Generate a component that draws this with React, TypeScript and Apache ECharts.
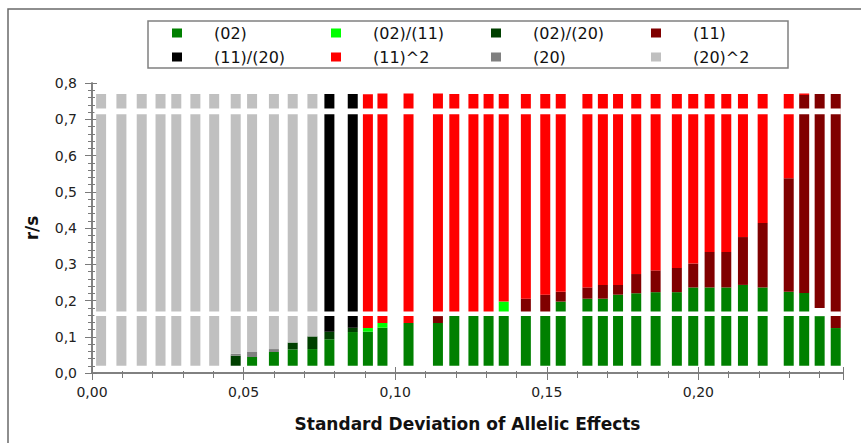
import React, { useEffect, useRef } from "react";
import * as echarts from "echarts";

// x positions of the bars (Standard Deviation of Allelic Effects)
const xValues = [0.0030, 0.0097, 0.0164, 0.0226, 0.0278, 0.0341, 0.0403, 0.0474, 0.0528, 0.0600,
  0.0662, 0.0727, 0.0783, 0.0860, 0.0910, 0.0958, 0.1044, 0.1141, 0.1195, 0.1258,
  0.1308, 0.1358, 0.1431, 0.1495, 0.1546, 0.1634, 0.1685, 0.1735, 0.1795, 0.1859,
  0.1929, 0.1983, 0.2037, 0.2092, 0.2147, 0.2212, 0.2298, 0.2349, 0.2400, 0.2453];

// bottom of every bar
const baseValues = Array(40).fill(0.02);

const s02 = [0, 0, 0, 0, 0, 0, 0, 0, 0.024, 0.038,
  0.045, 0.046, 0.073, 0.093, 0.094, 0.105, 0.118, 0.118, 0.143, 0.143,
  0.143, 0.143, 0.143, 0.143, 0.177, 0.185, 0.185, 0.196, 0.200, 0.203,
  0.203, 0.216, 0.216, 0.216, 0.223, 0.216, 0.204, 0.201, 0.137, 0.104];
const s02_11 = [0, 0, 0, 0, 0, 0, 0, 0, 0, 0,
  0, 0, 0, 0, 0.010, 0.013, 0, 0, 0, 0,
  0, 0.034, 0, 0, 0, 0, 0, 0, 0, 0,
  0, 0, 0, 0, 0, 0, 0, 0, 0, 0];
const s02_20 = [0, 0, 0, 0, 0, 0, 0, 0.028, 0, 0,
  0.019, 0.035, 0.021, 0.012, 0, 0, 0, 0, 0, 0,
  0, 0, 0, 0, 0, 0, 0, 0, 0, 0,
  0, 0, 0, 0, 0, 0, 0, 0, 0, 0];
const s20 = [0, 0, 0, 0, 0, 0, 0, 0.005, 0.014, 0.008,
  0, 0, 0, 0, 0, 0, 0, 0, 0, 0,
  0, 0, 0, 0, 0, 0, 0, 0, 0, 0,
  0, 0, 0, 0, 0, 0, 0, 0, 0, 0];
const s20sq = [0.75, 0.75, 0.75, 0.75, 0.75, 0.75, 0.75, 0.717, 0.712, 0.704,
  0.686, 0.669, 0, 0, 0, 0, 0, 0, 0, 0,
  0, 0, 0, 0, 0, 0, 0, 0, 0, 0,
  0, 0, 0, 0, 0, 0, 0, 0, 0, 0];
const s11_20 = [0, 0, 0, 0, 0, 0, 0, 0, 0, 0,
  0, 0, 0.656, 0.645, 0, 0, 0, 0, 0, 0,
  0, 0, 0, 0, 0, 0, 0, 0, 0, 0,
  0, 0, 0, 0, 0, 0, 0, 0, 0, 0];
const sGap = [0, 0, 0, 0, 0, 0, 0, 0, 0, 0,
  0, 0, 0, 0, 0, 0, 0, 0, 0, 0,
  0, 0, 0, 0, 0, 0, 0, 0, 0, 0,
  0, 0, 0, 0, 0, 0, 0, 0, 0.022, 0];
const s11 = [0, 0, 0, 0, 0, 0, 0, 0, 0, 0,
  0, 0, 0, 0, 0, 0, 0, 0.019, 0, 0,
  0, 0, 0.042, 0.053, 0.027, 0.031, 0.038, 0.027, 0.053, 0.060,
  0.067, 0.066, 0.098, 0.098, 0.132, 0.178, 0.313, 0.546, 0.591, 0.646];
const s11sq = [0, 0, 0, 0, 0, 0, 0, 0, 0, 0,
  0, 0, 0, 0, 0.645, 0.633, 0.633, 0.614, 0.607, 0.607,
  0.607, 0.573, 0.565, 0.554, 0.546, 0.534, 0.527, 0.527, 0.497, 0.487,
  0.480, 0.468, 0.436, 0.436, 0.395, 0.356, 0.233, 0.004, 0, 0];

// stacking order (bottom to top)
const stackOrder: [string, number[], string][] = [
  ["(02)", s02, "#008000"],
  ["(02)/(11)", s02_11, "#00ff00"],
  ["(02)/(20)", s02_20, "#004000"],
  ["(20)", s20, "#808080"],
  ["(20)^2", s20sq, "#c0c0c0"],
  ["(11)/(20)", s11_20, "#000000"],
  ["gap", sGap, "#ffffff"],
  ["(11)", s11, "#800000"],
  ["(11)^2", s11sq, "#ff0000"],
];

// white break bands across the bars [from, to]
const breakBands = [[0.157, 0.170], [0.7135, 0.730]];

const xTicks = { min: 0, max: 0.2477, interval: 0.05 };
const yTicks = { min: 0, max: 0.8, interval: 0.1 };

const FONT = "DejaVu Sans";
const AXIS = "#7a7a7a";
const BAR_PX = 10;

export default function App() {
  const ref = useRef<HTMLDivElement>(null);
  useEffect(() => {
    if (!ref.current) return;
    const chart = echarts.init(ref.current, null, { renderer: "svg" });

    const running = baseValues.slice();
    const barSeries = stackOrder.map(([name, vals, color]) => {
      const data: number[][] = [];
      xValues.forEach((x, i) => {
        const bottom = running[i];
        const top = bottom + vals[i];
        running[i] = top;
        if (vals[i] > 0) data.push([x, bottom, top]);
      });
      return {
        name,
        type: "custom",
        silent: true,
        itemStyle: { color },
        encode: { x: 0, y: [1, 2] },
        data,
        renderItem: (params: any, api: any) => {
          const pTop = api.coord([api.value(0), api.value(2)]);
          const pBot = api.coord([api.value(0), api.value(1)]);
          return {
            type: "rect",
            shape: { x: pTop[0] - BAR_PX / 2, y: pTop[1], width: BAR_PX, height: pBot[1] - pTop[1] },
            style: { fill: color },
          };
        },
      };
    });

    const legendBase = {
      orient: "vertical",
      top: 25,
      itemGap: 8,
      itemWidth: 37,
      itemHeight: 9,
      padding: 0,
      selectedMode: false,
      icon: "path://M0,0h10v9h-10zM37,9",
      textStyle: { fontFamily: FONT, fontSize: 16, lineHeight: 16, color: "#111" },
    };
    const xCommon = {
      type: "value",
      min: xTicks.min,
      max: xTicks.max,
      interval: xTicks.interval,
      splitLine: { show: false },
    };
    const yCommon = {
      type: "value",
      min: yTicks.min,
      max: yTicks.max,
      interval: yTicks.interval,
      splitLine: { show: false },
    };
    chart.setOption({
      animation: false,
      grid: { left: 92, right: 18, top: 83, bottom: 70 },
      legend: [
        { ...legendBase, left: 172, data: ["(02)", "(11)/(20)"] },
        { ...legendBase, left: 331, data: ["(02)/(11)", "(11)^2"] },
        { ...legendBase, left: 491, data: ["(02)/(20)", "(20)"] },
        { ...legendBase, left: 651, data: ["(11)", "(20)^2"] },
      ],
      graphic: [
        {
          type: "polyline",
          shape: { points: [[8, 443], [8, 9], [861, 9]] },
          style: { stroke: "#6a6a6a", lineWidth: 1.5, fill: "none" },
          silent: true,
        },
        {
          type: "rect",
          shape: { x: 148, y: 21, width: 640, height: 47 },
          style: { stroke: "#808080", lineWidth: 1.5, fill: "none" },
          silent: true,
        },
      ],
      xAxis: [
        {
          ...xCommon,
          position: "bottom",
          name: "Standard Deviation of Allelic Effects",
          nameLocation: "middle",
          nameGap: 42,
          nameTextStyle: { fontFamily: FONT, fontSize: 17, fontWeight: "bold", color: "#111" },
          axisLine: { lineStyle: { color: AXIS, width: 1.5 } },
          axisTick: { length: 6, lineStyle: { color: AXIS } },
          minorTick: { show: true, splitNumber: 5, length: 4, lineStyle: { color: AXIS } },
          axisLabel: {
            margin: 12,
            showMaxLabel: false,
            fontFamily: FONT,
            fontSize: 14,
            color: "#222",
            formatter: (v: number) => v.toFixed(2).replace(".", ","),
          },
        },
        {
          ...xCommon,
          position: "bottom",
          axisLine: { show: false },
          axisTick: { inside: true, length: 6, lineStyle: { color: AXIS } },
          minorTick: { show: true, splitNumber: 5, length: 2, lineStyle: { color: AXIS } },
          axisLabel: { show: false },
        },
        {
          ...xCommon,
          position: "top",
          axisLine: { lineStyle: { color: AXIS, width: 1.5 } },
          axisTick: { inside: true, length: 7, lineStyle: { color: AXIS } },
          minorTick: { show: true, splitNumber: 5, length: 5, lineStyle: { color: AXIS } },
          axisLabel: { show: false },
        },
      ],
      yAxis: [
        {
          ...yCommon,
          position: "left",
          name: "r/s",
          nameLocation: "middle",
          nameGap: 52,
          nameTextStyle: { fontFamily: FONT, fontSize: 17, fontWeight: "bold", color: "#111" },
          axisLine: { lineStyle: { color: AXIS, width: 1.5 } },
          axisTick: { length: 5, lineStyle: { color: AXIS } },
          minorTick: { show: true, splitNumber: 5, length: 3, lineStyle: { color: AXIS } },
          axisLabel: {
            margin: 15,
            fontFamily: FONT,
            fontSize: 14,
            color: "#222",
            formatter: (v: number) => v.toFixed(1).replace(".", ","),
          },
        },
        {
          ...yCommon,
          position: "left",
          axisLine: { show: false },
          axisTick: { inside: true, length: 5, lineStyle: { color: AXIS } },
          minorTick: { show: true, splitNumber: 5, length: 3, lineStyle: { color: AXIS } },
          axisLabel: { show: false },
        },
        {
          ...yCommon,
          position: "right",
          axisLine: { lineStyle: { color: AXIS, width: 1.5 } },
          axisTick: { inside: true, length: 7, lineStyle: { color: AXIS } },
          minorTick: { show: true, splitNumber: 5, length: 4, lineStyle: { color: AXIS } },
          axisLabel: { show: false },
        },
      ],
      series: [
        ...barSeries,
        {
          type: "custom",
          silent: true,
          z: 5,
          data: breakBands,
          renderItem: (params: any, api: any) => {
            const a = api.coord([0.0008, api.value(1)]);
            const b = api.coord([0.2470, api.value(0)]);
            return {
              type: "rect",
              shape: { x: a[0], y: a[1], width: b[0] - a[0], height: b[1] - a[1] },
              style: { fill: "#ffffff" },
            };
          },
        },
      ],
    });
    return () => chart.dispose();
  }, []);
  return (
    <div
      ref={ref}
      style={{ position: "fixed", left: 0, top: 0, width: 861, height: 443, background: "#fff" }}
    />
  );
}
